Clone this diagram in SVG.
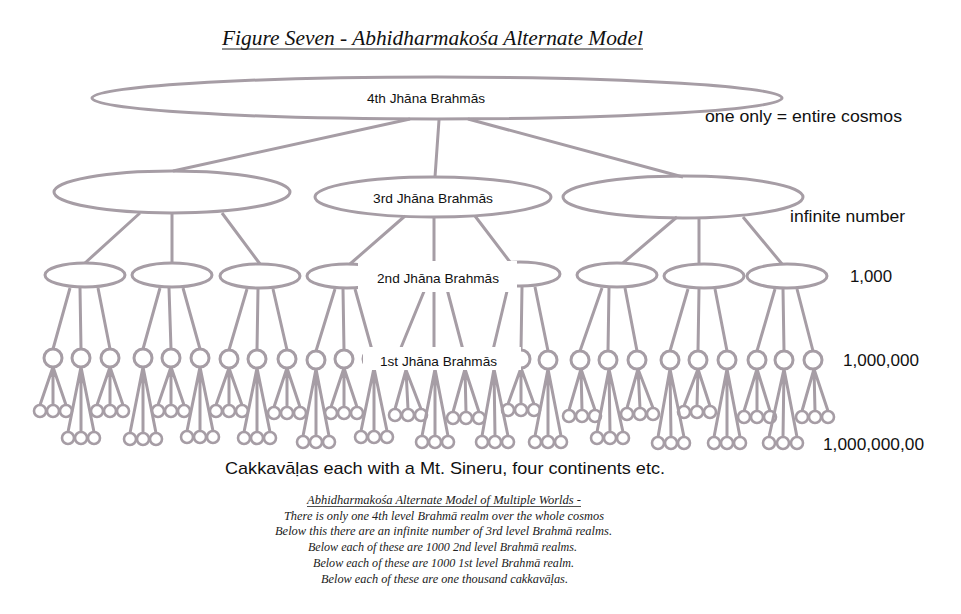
<svg xmlns="http://www.w3.org/2000/svg" width="961" height="614" viewBox="0 0 961 614">
<style>
.n{fill:#fff;stroke:#a69da5;stroke-width:3}
.s{fill:#fff;stroke:#a69da5;stroke-width:2.6}
.c{fill:none;stroke:#a69da5;stroke-width:3;stroke-linecap:butt}
.lb{font-family:"Liberation Sans",Arial,sans-serif;font-size:13px;fill:#111}
.r{font-family:"Liberation Sans",Arial,sans-serif;font-size:17px;fill:#111}
.cap{font-family:"Liberation Serif","DejaVu Serif",serif;font-style:italic;font-size:13px;fill:#222}
</style>
<rect width="961" height="614" fill="#fff"/>
<g id="title">
<text x="222" y="45" font-family="'Liberation Serif','DejaVu Serif',serif" font-style="italic" font-size="22" fill="#111" textLength="421" lengthAdjust="spacingAndGlyphs">Figure Seven - Abhidharmakośa Alternate Model</text>
<line x1="222" y1="49" x2="643" y2="49" stroke="#222" stroke-width="1"/>
</g>
<g id="jhana4"><ellipse class="n" cx="437" cy="98" rx="345" ry="21"/><text class="lb" x="367" y="102.5" textLength="118" lengthAdjust="spacingAndGlyphs">4th Jhāna Brahmās</text></g>
<g id="jhana3-a"><ellipse class="n" cx="172" cy="192" rx="118" ry="21"/></g>
<g id="jhana3-b"><ellipse class="n" cx="433" cy="197" rx="118" ry="20"/><text class="lb" x="373" y="202.5" textLength="120" lengthAdjust="spacingAndGlyphs">3rd Jhāna Brahmās</text></g>
<g id="jhana3-c"><ellipse class="n" cx="683" cy="197" rx="120" ry="21"/></g>
<g id="jhana2">
<ellipse class="n" cx="85" cy="275" rx="40" ry="12"/>
<ellipse class="n" cx="172" cy="275" rx="40" ry="12"/>
<ellipse class="n" cx="260" cy="276" rx="40" ry="12"/>
<ellipse class="n" cx="347" cy="276" rx="40" ry="12"/>
<ellipse class="n" cx="434" cy="276" rx="40" ry="12"/>
<ellipse class="n" cx="520" cy="274" rx="40" ry="12"/>
<ellipse class="n" cx="617" cy="275" rx="40" ry="12"/>
<ellipse class="n" cx="704" cy="276" rx="40" ry="12"/>
<ellipse class="n" cx="787" cy="276" rx="40" ry="12"/>
</g>
<g id="jhana1">
<circle class="n" cx="53" cy="358" r="9"/><circle class="n" cx="81" cy="358" r="9"/><circle class="n" cx="110" cy="358" r="9"/>
<circle class="n" cx="143" cy="358" r="9"/><circle class="n" cx="171" cy="358" r="9"/><circle class="n" cx="200" cy="358" r="9"/>
<circle class="n" cx="229" cy="359" r="9"/><circle class="n" cx="257" cy="359" r="9"/><circle class="n" cx="287" cy="359" r="9"/>
<circle class="n" cx="316" cy="360" r="9"/><circle class="n" cx="344" cy="359" r="9"/><circle class="n" cx="372" cy="359" r="9"/>
<circle class="n" cx="400" cy="359" r="9"/><circle class="n" cx="434" cy="359" r="9"/><circle class="n" cx="463" cy="359" r="9"/>
<circle class="n" cx="493" cy="359" r="9"/><circle class="n" cx="521" cy="359" r="9"/><circle class="n" cx="548" cy="360" r="9"/>
<circle class="n" cx="580" cy="360" r="9"/><circle class="n" cx="608" cy="360" r="9"/><circle class="n" cx="637" cy="360" r="9"/>
<circle class="n" cx="670" cy="360" r="9"/><circle class="n" cx="698" cy="360" r="9"/><circle class="n" cx="727" cy="360" r="9"/>
<circle class="n" cx="757" cy="360" r="9"/><circle class="n" cx="784" cy="360" r="9"/><circle class="n" cx="813" cy="360" r="9"/>
</g>
<g id="cakkavalas">
<circle class="s" cx="40" cy="411" r="6"/><circle class="s" cx="53" cy="411" r="6"/><circle class="s" cx="66" cy="411" r="6"/>
<circle class="s" cx="68" cy="438" r="6"/><circle class="s" cx="81" cy="438" r="6"/><circle class="s" cx="94" cy="438" r="6"/>
<circle class="s" cx="97" cy="411" r="6"/><circle class="s" cx="110" cy="411" r="6"/><circle class="s" cx="123" cy="411" r="6"/>
<circle class="s" cx="130" cy="439" r="6"/><circle class="s" cx="143" cy="439" r="6"/><circle class="s" cx="156" cy="439" r="6"/>
<circle class="s" cx="158" cy="411" r="6"/><circle class="s" cx="171" cy="411" r="6"/><circle class="s" cx="184" cy="411" r="6"/>
<circle class="s" cx="187" cy="437" r="6"/><circle class="s" cx="200" cy="437" r="6"/><circle class="s" cx="213" cy="437" r="6"/>
<circle class="s" cx="216" cy="411" r="6"/><circle class="s" cx="229" cy="411" r="6"/><circle class="s" cx="242" cy="411" r="6"/>
<circle class="s" cx="244" cy="438" r="6"/><circle class="s" cx="257" cy="438" r="6"/><circle class="s" cx="270" cy="438" r="6"/>
<circle class="s" cx="274" cy="413" r="6"/><circle class="s" cx="287" cy="413" r="6"/><circle class="s" cx="300" cy="413" r="6"/>
<circle class="s" cx="303" cy="442" r="6"/><circle class="s" cx="316" cy="442" r="6"/><circle class="s" cx="329" cy="442" r="6"/>
<circle class="s" cx="331" cy="413" r="6"/><circle class="s" cx="344" cy="413" r="6"/><circle class="s" cx="357" cy="413" r="6"/>
<circle class="s" cx="361" cy="437" r="6"/><circle class="s" cx="374" cy="437" r="6"/><circle class="s" cx="387" cy="437" r="6"/>
<circle class="s" cx="395" cy="415" r="6"/><circle class="s" cx="408" cy="415" r="6"/><circle class="s" cx="421" cy="415" r="6"/>
<circle class="s" cx="422" cy="442" r="6"/><circle class="s" cx="435" cy="442" r="6"/><circle class="s" cx="448" cy="442" r="6"/>
<circle class="s" cx="453" cy="418" r="6"/><circle class="s" cx="466" cy="418" r="6"/><circle class="s" cx="479" cy="418" r="6"/>
<circle class="s" cx="482" cy="442" r="6"/><circle class="s" cx="495" cy="442" r="6"/><circle class="s" cx="508" cy="442" r="6"/>
<circle class="s" cx="508" cy="410" r="6"/><circle class="s" cx="521" cy="410" r="6"/><circle class="s" cx="534" cy="410" r="6"/>
<circle class="s" cx="535" cy="442" r="6"/><circle class="s" cx="548" cy="442" r="6"/><circle class="s" cx="561" cy="442" r="6"/>
<circle class="s" cx="569" cy="416" r="6"/><circle class="s" cx="582" cy="416" r="6"/><circle class="s" cx="595" cy="416" r="6"/>
<circle class="s" cx="597" cy="438" r="6"/><circle class="s" cx="610" cy="438" r="6"/><circle class="s" cx="623" cy="438" r="6"/>
<circle class="s" cx="627" cy="414" r="6"/><circle class="s" cx="640" cy="414" r="6"/><circle class="s" cx="653" cy="414" r="6"/>
<circle class="s" cx="658" cy="443" r="6"/><circle class="s" cx="671" cy="443" r="6"/><circle class="s" cx="684" cy="443" r="6"/>
<circle class="s" cx="684" cy="412" r="6"/><circle class="s" cx="697" cy="412" r="6"/><circle class="s" cx="710" cy="412" r="6"/>
<circle class="s" cx="714" cy="443" r="6"/><circle class="s" cx="727" cy="443" r="6"/><circle class="s" cx="740" cy="443" r="6"/>
<circle class="s" cx="744" cy="417" r="6"/><circle class="s" cx="757" cy="417" r="6"/><circle class="s" cx="770" cy="417" r="6"/>
<circle class="s" cx="769" cy="443" r="6"/><circle class="s" cx="783" cy="443" r="6"/><circle class="s" cx="797" cy="443" r="6"/>
<circle class="s" cx="802" cy="417" r="6"/><circle class="s" cx="815" cy="417" r="6"/><circle class="s" cx="828" cy="417" r="6"/>
</g>
<g id="connectors" class="c">
<path d="M410 119L173 171M439 120L435 177M468 119L683 177"/>
<path d="M140 213L85 263M172 214L172 263M222 213L260 264M405 216L350 264M434 218L434 264M475 216L510 262M677 217L623 263M699 219L699 264M743 217L782 264"/>
<path d="M70 288L53 349M80 288L81 349M98 288L110 349M160 288L143 349M169 288L171 349M183 288L200 349M247 289L229 350M258 289L257 350M273 289L287 350M335 289L316 351M343 289L344 350M355 289L372 350M425 289L400 350M434 289L434 350M447 289L463 350M508 287L493 350M522 287L521 350M535 287L548 351M602 288L580 351M609 288L608 351M625 288L637 351M688 289L670 351M699 289L698 351M715 289L727 351M775 289L757 351M783 289L784 351M797 289L813 351"/>
<path d="M53 367L40 405M53 367L53 405M53 367L66 405M81 367L68 432M81 367L81 432M81 367L94 432M110 367L97 405M110 367L110 405M110 367L123 405M143 367L130 433M143 367L143 433M143 367L156 433M171 367L158 405M171 367L171 405M171 367L184 405M200 367L187 431M200 367L200 431M200 367L213 431M229 368L216 405M229 368L229 405M229 368L242 405M257 368L244 432M257 368L257 432M257 368L270 432M287 368L274 407M287 368L287 407M287 368L300 407M316 369L303 436M316 369L316 436M316 369L329 436M344 368L331 407M344 368L344 407M344 368L357 407M374 368L361 431M374 368L374 431M374 368L387 431M406 370L395 409M406 370L408 409M406 370L421 409M435 369L422 436M435 369L435 436M435 369L448 436M465 369L453 412M465 369L466 412M465 369L479 412M494 369L482 436M494 369L495 436M494 369L508 436M521 368L508 404M521 368L521 404M521 368L534 404M548 369L535 436M548 369L548 436M548 369L561 436M581 369L569 410M581 369L582 410M581 369L595 410M609 369L597 432M609 369L610 432M609 369L623 432M638 369L627 408M638 369L640 408M638 369L653 408M670 369L658 437M670 369L671 437M670 369L684 437M698 369L684 406M698 369L697 406M698 369L710 406M727 369L714 437M727 369L727 437M727 369L740 437M757 369L744 411M757 369L757 411M757 369L770 411M784 369L769 437M784 369L783 437M784 369L797 437M814 369L802 411M814 369L815 411M814 369L828 411"/>
</g>
<g id="label-jhana2"><rect x="358" y="261" width="159" height="31" fill="#fff"/><text class="lb" x="377" y="282.5" textLength="122" lengthAdjust="spacingAndGlyphs">2nd Jhāna Brahmās</text></g>
<g id="label-jhana1"><rect x="363" y="347" width="158" height="23" fill="#fff"/><text class="lb" x="380" y="365.5" textLength="117" lengthAdjust="spacingAndGlyphs">1st Jhāna Brahmās</text></g>
<g id="counts">
<text class="r" x="705" y="122" textLength="197" lengthAdjust="spacingAndGlyphs">one only = entire cosmos</text>
<text class="r" x="790" y="222" textLength="115" lengthAdjust="spacingAndGlyphs">infinite number</text>
<text class="r" x="850" y="282" textLength="42" lengthAdjust="spacingAndGlyphs">1,000</text>
<text class="r" x="843" y="366" textLength="76" lengthAdjust="spacingAndGlyphs">1,000,000</text>
<text class="r" x="823" y="450" textLength="101" lengthAdjust="spacingAndGlyphs">1,000,000,00</text>
<text class="r" x="225" y="474" font-size="18" textLength="440" lengthAdjust="spacingAndGlyphs">Cakkavāḷas each with a Mt. Sineru, four continents etc.</text>
</g>
<g id="caption">
<text class="cap" x="307" y="504" textLength="274" lengthAdjust="spacingAndGlyphs">Abhidharmakośa Alternate Model of Multiple Worlds -</text>
<line x1="307" y1="506.5" x2="581" y2="506.5" stroke="#222" stroke-width="0.8"/>
<text class="cap" x="284" y="520" textLength="320" lengthAdjust="spacingAndGlyphs">There is only one 4th level Brahmā realm over the whole cosmos</text>
<text class="cap" x="275" y="535" textLength="337" lengthAdjust="spacingAndGlyphs">Below this there are an infinite number of 3rd level Brahmā realms.</text>
<text class="cap" x="308" y="551" textLength="269" lengthAdjust="spacingAndGlyphs">Below each of these are 1000 2nd level Brahmā realms.</text>
<text class="cap" x="313" y="567" textLength="261" lengthAdjust="spacingAndGlyphs">Below each of these are 1000 1st level Brahmā realm.</text>
<text class="cap" x="321" y="583" textLength="247" lengthAdjust="spacingAndGlyphs">Below each of these are one thousand cakkavāḷas.</text>
</g>
</svg>
